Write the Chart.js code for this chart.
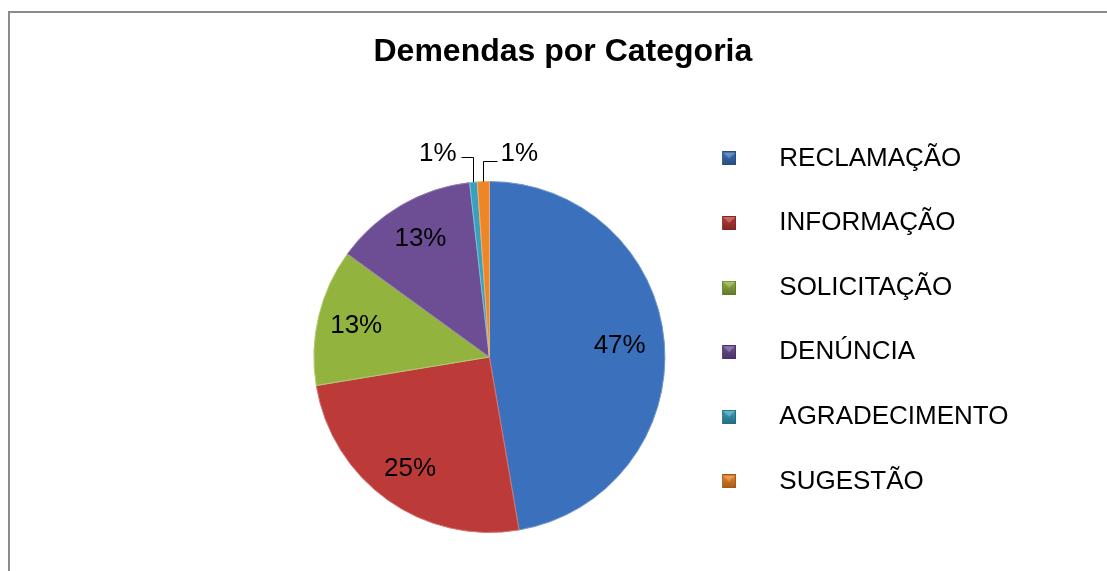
<!DOCTYPE html>
<html><head><meta charset="utf-8">
<script src="https://cdn.jsdelivr.net/npm/chart.js@4/dist/chart.umd.min.js"></script>
<style>html,body{margin:0;padding:0;background:#fff;overflow:hidden}#wrap{position:relative;width:1107px;height:571px}</style>
</head><body><div id="wrap"><canvas id="c" width="1107" height="571"></canvas></div>
<script>
const chartTitle = 'Demendas por Categoria';
const categories = ['RECLAMAÇÃO', 'INFORMAÇÃO', 'SOLICITAÇÃO', 'DENÚNCIA', 'AGRADECIMENTO', 'SUGESTÃO'];
const shares = [47.3, 25.1, 12.6, 13.2, 0.7, 1.1];
const sliceColors = ['#3B71BC', '#BC3B39', '#93B33F', '#6D4E95', '#36A2BF', '#EE8527'];
const edgeColors  = ['#6F97CF', '#D27473', '#B3CB77', '#9680B3', '#79C2D5', '#F5AE6E'];
const markerDark  = ['#274C7F', '#7F2725', '#63792A', '#493464', '#246C80', '#A05919'];

const FONT = '"Liberation Sans", Arial, sans-serif';

function makeMarker(color, dark) {
  const c = document.createElement('canvas');
  c.width = 62; c.height = 14;
  const g = c.getContext('2d');
  const x0 = 48;
  const grad = g.createLinearGradient(0, 0, 0, 14);
  grad.addColorStop(0, color);
  grad.addColorStop(1, dark);
  g.fillStyle = grad;
  g.fillRect(x0, 0, 14, 14);
  g.fillStyle = 'rgba(255,255,255,0.25)';
  g.beginPath(); g.moveTo(x0, 0); g.lineTo(x0 + 14, 0); g.lineTo(x0 + 7, 7); g.closePath(); g.fill();
  g.strokeStyle = dark; g.lineWidth = 1;
  g.strokeRect(x0 + 0.5, 0.5, 13, 13);
  return c;
}
const markers = sliceColors.map((c, i) => makeMarker(c, markerDark[i]));

const frame = {
  id: 'frame',
  beforeDraw(chart) {
    const ctx = chart.ctx;
    ctx.save();
    ctx.fillStyle = '#fff';
    ctx.fillRect(0, 0, chart.width, chart.height);
    ctx.strokeStyle = '#8c8c8c';
    ctx.lineWidth = 2;
    ctx.strokeRect(9, 12, 3000, 3000);
    ctx.restore();
  }
};

const pctLabels = {
  id: 'pctLabels',
  afterDatasetsDraw(chart) {
    const ctx = chart.ctx;
    const meta = chart.getDatasetMeta(0);
    const data = chart.data.datasets[0].data;
    const total = data.reduce((a, b) => a + b, 0);
    ctx.save();
    ctx.font = '26px ' + FONT;
    ctx.fillStyle = '#000';
    ctx.strokeStyle = '#000';
    ctx.lineWidth = 1;
    ctx.textBaseline = 'middle';
    let small = 0;
    meta.data.forEach((arc, i) => {
      const p = arc.getProps(['x', 'y', 'startAngle', 'endAngle', 'outerRadius'], true);
      const mid = (p.startAngle + p.endAngle) / 2;
      const txt = Math.round(data[i] / total * 100) + '%';
      if (data[i] / total >= 0.03) {
        const f = i === 0 ? 0.745 : 0.78;
        ctx.textAlign = 'center';
        ctx.fillText(txt, p.x + Math.cos(mid) * p.outerRadius * f, p.y + Math.sin(mid) * p.outerRadius * f);
      } else {
        const ax = Math.round(p.x + Math.cos(mid) * p.outerRadius) + 0.5;
        const ay = p.y + Math.sin(mid) * p.outerRadius;
        const left = small === 0;
        const ly = Math.round(p.y - p.outerRadius - (left ? 25 : 21)) + 0.5;
        const ex = left ? ax - 12 : ax + 14;
        ctx.beginPath();
        ctx.moveTo(ax, ay);
        ctx.lineTo(ax, ly);
        ctx.lineTo(ex, ly);
        ctx.stroke();
        const ty = p.y - p.outerRadius - 28;
        if (left) { ctx.textAlign = 'right'; ctx.fillText(txt, ex - 5, ty); }
        else { ctx.textAlign = 'left'; ctx.fillText(txt, ex + 3, ty); }
        small++;
      }
    });
    ctx.restore();
  }
};

new Chart(document.getElementById('c'), {
  type: 'pie',
  data: {
    labels: categories,
    datasets: [{
      data: shares,
      backgroundColor: sliceColors,
      borderColor: edgeColors,
      borderWidth: 1,
      radius: 175.5
    }]
  },
  options: {
    responsive: false,
    animation: false,
    layout: { padding: { left: 373.5, right: 88.5, top: 0, bottom: 38 } },
    plugins: {
      tooltip: { enabled: false },
      title: {
        display: true,
        align: 'start',
        text: chartTitle,
        color: '#000',
        font: { family: FONT, size: 32, weight: 'bold', lineHeight: 1.2 },
        padding: { top: 32.8, bottom: 109.8 }
      },
      legend: {
        position: 'right',
        align: 'end',
        maxWidth: 415,
        labels: {
          usePointStyle: true,
          pointStyleWidth: 122.4,
          padding: 38.6,
          color: '#000',
          font: { family: FONT, size: 26 },
          generateLabels(chart) {
            const items = Chart.overrides.pie.plugins.legend.labels.generateLabels(chart);
            items.forEach((it, i) => { it.pointStyle = markers[i]; });
            return items;
          }
        }
      }
    }
  },
  plugins: [frame, pctLabels]
});
</script>
</body></html>
